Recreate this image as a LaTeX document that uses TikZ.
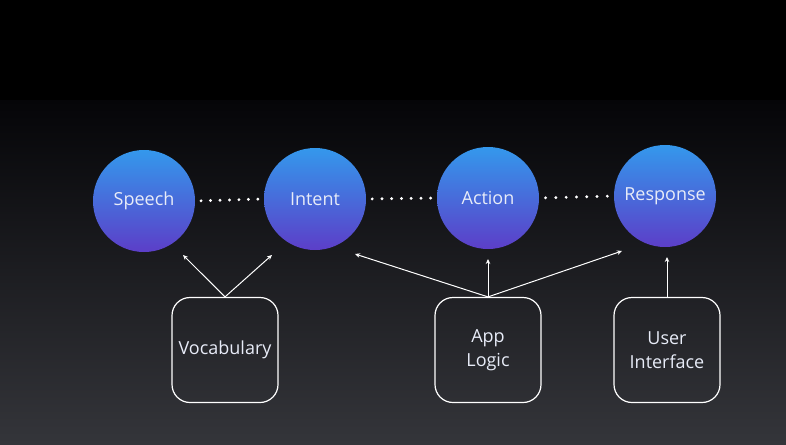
\documentclass[tikz,border=0pt]{standalone}
\usepackage{fontspec}
\setmainfont{Open Sans}
\usepackage{xcolor}
\usetikzlibrary{arrows.meta,calc}
\definecolor{bgtop}{RGB}{5, 5, 8}
\definecolor{bgbot}{RGB}{52, 53, 58}
\definecolor{circtop}{RGB}{52, 152, 236}
\definecolor{circmid}{RGB}{64, 116, 228}
\definecolor{circbot}{RGB}{92, 62, 200}
\definecolor{label}{RGB}{232, 236, 248}

\begin{document}
\begin{tikzpicture}[x=1pt,y=-1pt,
  stage/.style={circle, minimum size=102pt, inner sep=0pt, top color=circtop, middle color=circmid, bottom color=circbot, text=label, font=\fontsize{18}{22}\selectfont},
  part/.style={draw=white!88, line width=1.2pt, rounded corners=18pt, minimum width=106pt, minimum height=105pt, align=center, text=label, font=\fontsize{18}{24}\selectfont},
  link/.style={white!85, line width=1pt, -{Stealth[length=5pt,width=4.5pt]}}]
\useasboundingbox (0,0) rectangle (786,444);
% Background
\fill[black] (0,0) rectangle (786,444);
\shade[top color=bgtop, bottom color=bgbot] (0,100) rectangle (786,444);
% Stages
\node[stage] (speech) at (144,201) {Speech};
\node[stage] (intent) at (315,199) {Intent};
\node[stage] (action) at (488,198) {Action};
\node[stage] (response) at (665,196) {Response};
% Dots between the stages
\foreach \a/\b in {speech/intent, intent/action, action/response}
  \foreach \i in {0,...,6}
    \fill[white] ($(\a.east)!{0.085+\i*0.138}!(\b.west)$) circle (1.6);
% Parts
\node[part] (vocab) at (225,350) {Vocabulary};
\node[part] (logic) at (488,350) {App\\Logic};
\node[part] (ui) at (667,350) {User\\Interface};
% Arrow tips
\coordinate (speechtip) at (183,255);
\coordinate (intenttip) at (272,255);
\coordinate (intenttip2) at (355,254);
\coordinate (actiontip) at (488,259);
\coordinate (responsetip) at (622,251);
\coordinate (responsetip2) at (667,257);
% Arrows
\draw[link] (vocab.north) -- (speechtip);
\draw[link] (vocab.north) -- (intenttip);
\draw[link] (logic.north) -- (intenttip2);
\draw[link] (logic.north) -- (actiontip);
\draw[link] (logic.north) -- (responsetip);
\draw[link] (ui.north) -- (responsetip2);
\end{tikzpicture}
\end{document}
